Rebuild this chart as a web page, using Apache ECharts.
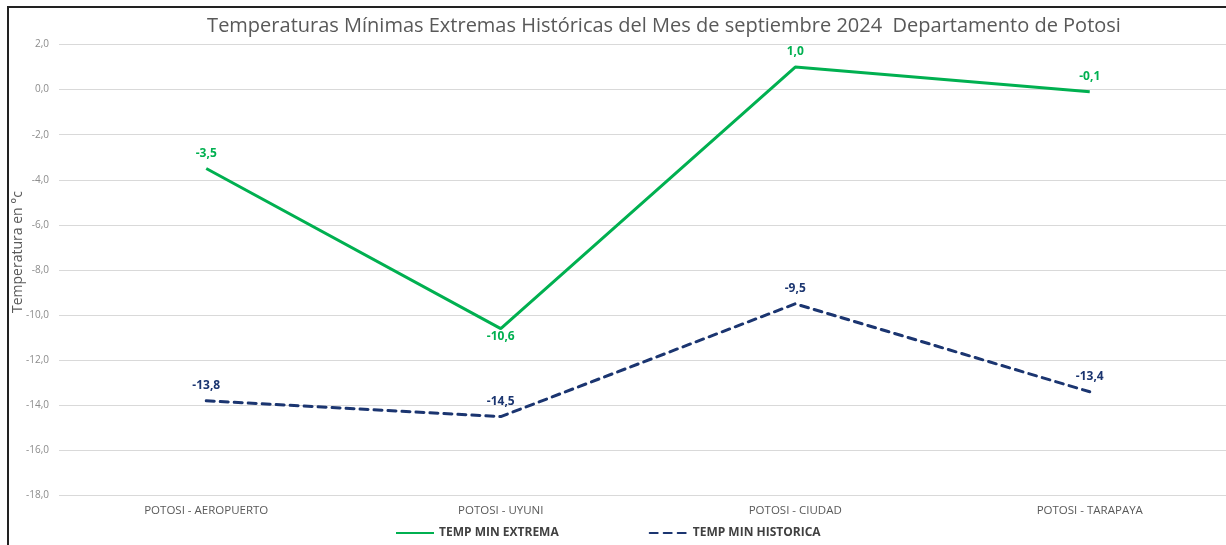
<!DOCTYPE html>
<html>
<head>
<meta charset="utf-8">
<script src="https://cdn.jsdelivr.net/npm/echarts@6/dist/echarts.min.js"></script>
<style>
    html, body { margin: 0; padding: 0; background: #fff; }
    #chart { width: 1226px; height: 545px; }
    .frame { position: absolute; left: 7px; top: 6px; width: 1230px; height: 560px; border: 2px solid #222; box-sizing: border-box; pointer-events: none; }
</style>
</head>
<body>
<div id="chart"></div>
<div class="frame"></div>
<script>
var estaciones = ['POTOSI - AEROPUERTO', 'POTOSI - UYUNI', 'POTOSI - CIUDAD', 'POTOSI - TARAPAYA'];
var tempExtrema = [-3.5, -10.6, 1.0, -0.1];
var tempHistorica = [-13.8, -14.5, -9.5, -13.4];

function coma(v) {
    return Number(v).toFixed(1).replace('.', ',');
}

(function () {
    var chart = echarts.init(document.getElementById('chart'));
    var font = 'Open Sans';
    var azul = '#1b3570';
    var verde = '#00b050';
    // el punto minimo de UYUNI lleva la etiqueta abajo
    var extremaData = tempExtrema.map(function (v, i) {
        return i === 1 ? { value: v, label: { position: 'bottom', distance: 2 } } : v;
    });
    var option = {
        animation: false,
        textStyle: { fontFamily: font },
        title: {
            text: 'Temperaturas Mínimas Extremas Históricas del Mes de septiembre 2024  Departamento de Potosi',
            left: 659,
            textAlign: 'center',
            top: 11,
            textStyle: { fontFamily: font, fontSize: 20, fontWeight: 'normal', color: '#595959' }
        },
        legend: {
            bottom: 1,
            left: 390,
            itemGap: 90,
            itemWidth: 38,
            itemHeight: 10,
            itemStyle: { opacity: 0 },
            textStyle: { fontFamily: font, fontSize: 12, fontWeight: 'bold', color: '#404040' },
            data: ['TEMP MIN EXTREMA', 'TEMP MIN HISTORICA']
        },
        grid: {
            left: 59,
            width: 1178,
            top: 44.5,
            bottom: 49.5,
            outerBoundsMode: 'none'
        },
        xAxis: {
            type: 'category',
            data: estaciones,
            axisLine: { show: false },
            axisTick: { show: false },
            axisLabel: { fontFamily: font, fontSize: 11.5, color: '#595959', margin: 9 }
        },
        yAxis: {
            type: 'value',
            min: -18,
            max: 2,
            interval: 2,
            name: 'Temperatura en °c',
            nameLocation: 'middle',
            nameGap: 34,
            nameMoveOverlap: false,
            nameTextStyle: { fontFamily: font, fontSize: 14, color: '#595959', padding: [0, 0, 0, 36] },
            axisLabel: { fontFamily: font, fontSize: 10, color: '#8c8c8c', margin: 10, formatter: coma },
            splitLine: { lineStyle: { color: '#d9d9d9', width: 1 } }
        },
        series: [{
                name: 'TEMP MIN EXTREMA',
                type: 'line',
                data: extremaData,
                symbol: 'circle',
                symbolSize: 0,
                color: verde,
                lineStyle: { width: 3, color: verde },
                label: {
                    show: true,
                    position: 'top',
                    distance: 9,
                    fontFamily: font,
                    fontSize: 12,
                    fontWeight: 'bold',
                    color: verde,
                    formatter: function (p) { return coma(p.value); }
                }
            },
            {
                name: 'TEMP MIN HISTORICA',
                type: 'line',
                data: tempHistorica,
                symbol: 'circle',
                symbolSize: 0,
                color: azul,
                lineStyle: { width: 3, type: [8, 6], cap: 'round', color: azul },
                label: {
                    show: true,
                    position: 'top',
                    distance: 9,
                    fontFamily: font,
                    fontSize: 12,
                    fontWeight: 'bold',
                    color: azul,
                    formatter: function (p) { return coma(p.value); }
                }
            }
        ]
    };
    chart.setOption(option);
})();
</script>
</body>
</html>
